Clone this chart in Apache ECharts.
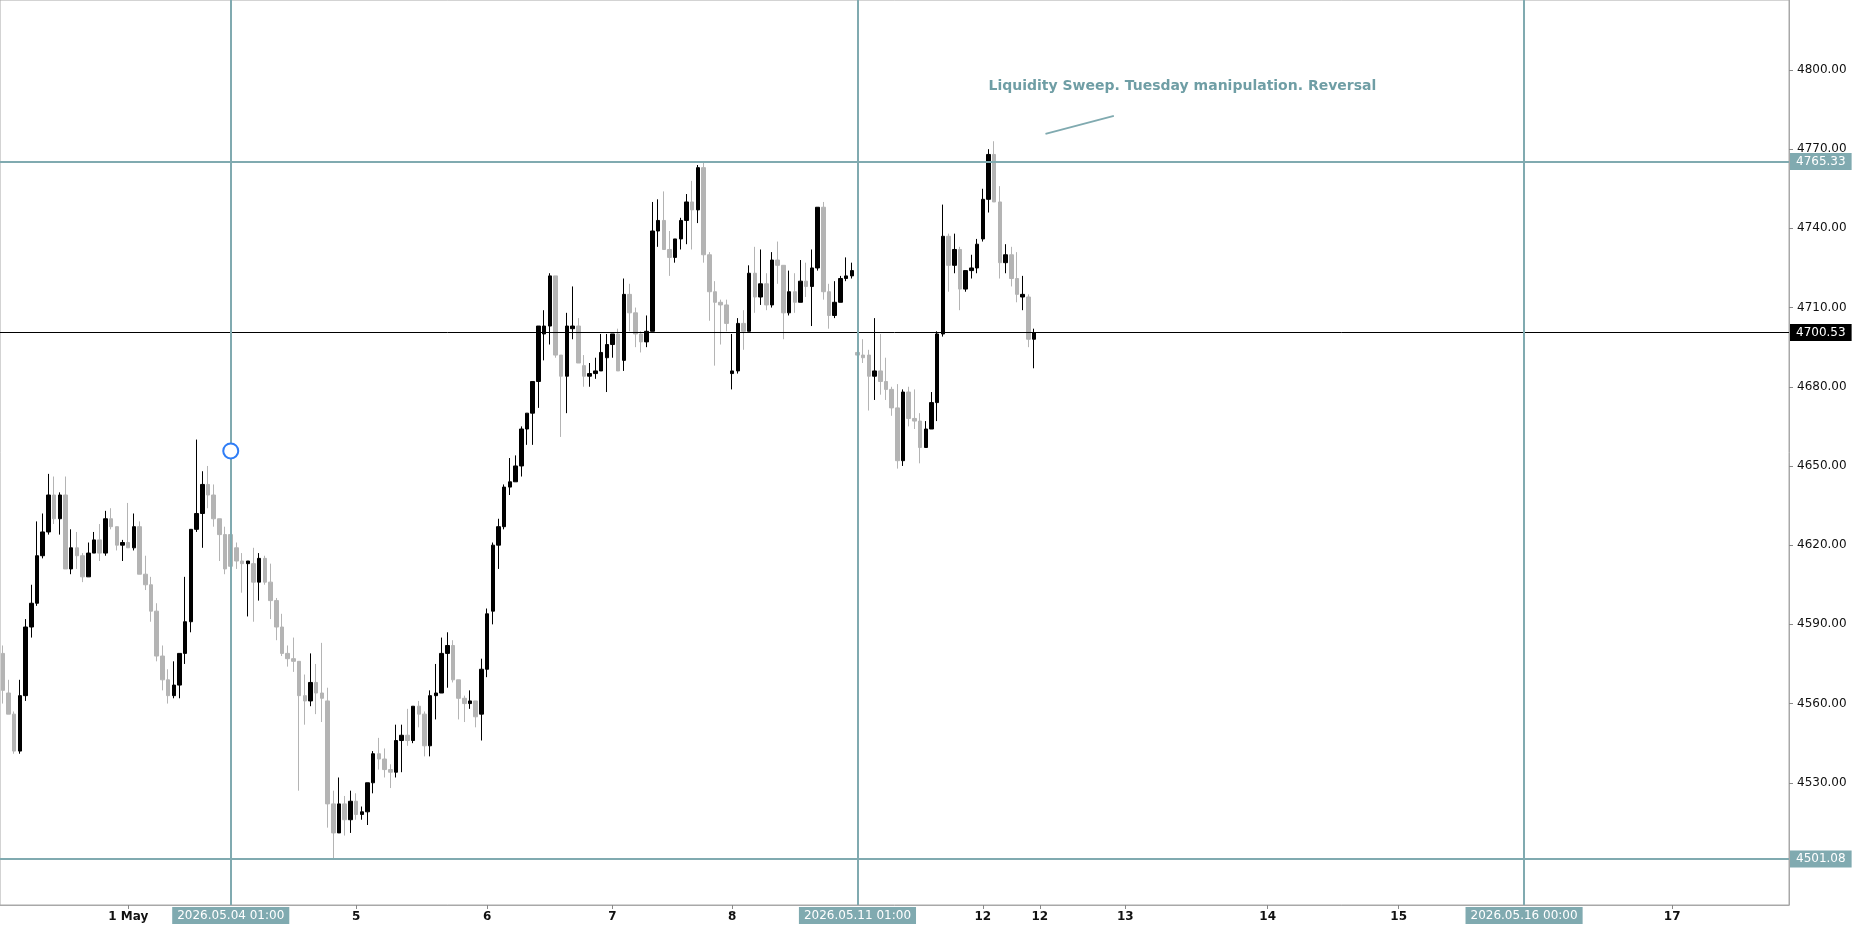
<!DOCTYPE html>
<html><head><meta charset="utf-8">
<script src="https://cdn.jsdelivr.net/npm/echarts@6/dist/echarts.min.js"></script>
<style>html,body{margin:0;padding:0;background:#fff}#c{width:1860px;height:930px}</style>
</head><body><div id="c"></div>
<script>
// Hourly candles: [open, close, low, high]
const candles = [
[4579,4565,4560,4582],[4564,4556,4556,4569],[4556,4542,4541,4557],[4542,4563,4541,4569],[4563,4589,4561,4592],
[4589,4598,4585,4605],[4598,4616,4597,4629],[4616,4625,4615,4632],[4625,4639,4624,4647],[4639,4630,4628,4646],
[4630,4639,4624,4640],[4639,4611,4611,4646],[4611,4619,4609,4626],[4619,4616,4611,4625],[4616,4608,4606,4617],
[4608,4617,4608,4621],[4617,4622,4617,4625],[4622,4617,4614,4628],[4617,4630,4616,4633],[4630,4627,4626,4634],
[4627,4620,4618,4627],[4620,4621,4614,4622],[4621,4619,4619,4636],[4619,4627,4618,4632],[4627,4609,4609,4629],
[4609,4605,4603,4616],[4605,4595,4591,4608],[4595,4578,4576,4598],[4578,4569,4565,4582],[4569,4563,4560,4573],
[4563,4567,4562,4576],[4567,4579,4562,4579],[4579,4591,4575,4608],[4591,4626,4587,4626],[4626,4632,4625,4660],
[4632,4643,4619,4648],[4643,4639,4634,4650],[4639,4630,4627,4643],[4630,4624,4614,4630],[4624,4611,4609,4627],
[4624,4612,4604,4628],[4619,4614,4611,4621],[4614,4613,4602,4617],[4613,4614,4593,4614],[4613,4606,4591,4619],
[4606,4615,4599,4617],[4615,4606,4605,4616],[4606,4599,4592,4613],[4599,4589,4584,4600],[4589,4579,4578,4594],
[4579,4577,4574,4582],[4577,4576,4572,4585],[4576,4563,4527,4576],[4563,4561,4552,4571],[4561,4568,4559,4579],
[4568,4564,4556,4575],[4564,4562,4553,4583],[4561,4522,4513,4566],[4522,4511,4501,4527],[4511,4522,4511,4532],
[4522,4516,4510,4525],[4516,4523,4511,4527],[4523,4518,4516,4526],[4518,4519,4516,4521],[4519,4530,4514,4530],
[4530,4541,4526,4542],[4541,4539,4535,4547],[4539,4535,4532,4543],[4535,4534,4528,4537],[4534,4546,4532,4552],
[4546,4548,4534,4552],[4548,4546,4544,4558],[4546,4559,4545,4559],[4559,4556,4551,4561],[4556,4544,4540,4557],
[4544,4563,4540,4565],[4563,4564,4554,4575],[4564,4579,4564,4585],[4579,4582,4566,4587],[4582,4569,4568,4584],
[4569,4562,4554,4569],[4562,4560,4553,4563],[4560,4561,4558,4565],[4561,4555,4551,4561],[4556,4573,4546,4577],
[4573,4594,4570,4596],[4595,4620,4590,4621],[4620,4627,4611,4630],[4627,4642,4626,4643],[4642,4644,4639,4653],
[4644,4650,4644,4654],[4650,4664,4646,4665],[4664,4670,4658,4670],[4670,4682,4658,4682],[4682,4703,4672,4703],
[4700,4703,4690,4709],[4703,4722,4696,4723],[4722,4692,4691,4722],[4692,4684,4661,4692],[4684,4703,4670,4708],
[4702,4703,4698,4718],[4703,4689,4689,4706],[4688,4684,4680,4692],[4684,4685,4680,4689],[4685,4686,4683,4691],
[4686,4693,4686,4700],[4691,4696,4678,4700],[4696,4700,4691,4700],[4700,4686,4686,4702],[4690,4715,4686,4721],
[4715,4708,4701,4719],[4708,4700,4695,4710],[4700,4697,4693,4701],[4697,4701,4695,4707],[4701,4739,4701,4750],
[4739,4743,4733,4751],[4743,4732,4732,4754],[4732,4729,4722,4739],[4729,4736,4727,4736],[4736,4743,4732,4744],
[4743,4750,4734,4753],[4750,4747,4732,4758],[4747,4763,4742,4764],[4763,4730,4727,4765],[4730,4716,4705,4731],
[4716,4712,4688,4720],[4712,4711,4696,4713],[4711,4704,4701,4713],[4685,4686,4679,4700],[4686,4704,4685,4706],
[4704,4701,4694,4709],[4701,4723,4701,4726],[4723,4714,4708,4733],[4714,4719,4711,4732],[4719,4711,4709,4723],
[4711,4728,4710,4731],[4728,4726,4719,4735],[4726,4708,4698,4726],[4708,4716,4707,4724],[4716,4712,4708,4723],
[4712,4720,4712,4728],[4720,4718,4714,4727],[4718,4725,4703,4732],[4725,4748,4724,4748],[4748,4716,4713,4750],
[4716,4707,4702,4719],[4707,4712,4706,4720],[4712,4721,4712,4722],[4721,4722,4720,4729],[4722,4724,4721,4727],
[4693,4692,4692,4694],[4692,4691,4689,4698],[4692,4684,4671,4694],[4684,4686,4675,4706],[4686,4682,4677,4700],
[4682,4679,4675,4691],[4679,4672,4669,4680],[4672,4652,4649,4681],[4652,4678,4650,4679],[4678,4668,4665,4680],
[4668,4667,4664,4679],[4667,4657,4651,4670],[4657,4664,4657,4667],[4664,4674,4664,4678],[4674,4700,4667,4701],
[4700,4737,4699,4749],[4737,4726,4716,4738],[4726,4732,4723,4738],[4732,4717,4709,4733],[4717,4724,4716,4724],
[4724,4725,4721,4730],[4725,4734,4723,4736],[4736,4751,4735,4755],[4751,4768,4746,4770],[4768,4750,4750,4773],
[4750,4727,4721,4756],[4727,4730,4723,4734],[4730,4721,4718,4733],[4721,4715,4712,4731],[4714,4715,4709,4722],
[4714,4698,4695,4715],[4698,4700.53,4687,4702]
];
const totalSlots = 314;
const xLabels = {22:'1 May',62:'5',85:'6',107:'7',128:'8',172:'12',182:'12',197:'13',222:'14',245:'15',293:'17'};
const yTicks = [4530,4560,4590,4620,4650,4680,4710,4740,4770,4800];
const hLevels = [{v:4765.33,c:'#80aab0'},{v:4501.08,c:'#80aab0'}];
const lastPrice = 4700.53;
const vLines = [{i:40,t:'2026.05.04 01:00'},{i:150,t:'2026.05.11 01:00'},{i:267,t:'2026.05.16 00:00'}];
const circlePt = [40,4655.7];
const noteText = 'Liquidity Sweep. Tuesday manipulation. Reversal';
const notePos = [173,4793.6];
const noteLine = [[183,4775.8],[195,4782.6]];

const teal = '#80aab0';
const cats = Array.from({length:totalSlots},(_,i)=>String(i));
const data = candles.map(c=>c);
const chart = echarts.init(document.getElementById('c'));
const font = 'DejaVu Sans';
chart.setOption({
  animation:false,
  grid:{left:0,right:71,top:0,bottom:25,show:true,borderColor:'#a8a8a8',borderWidth:1},
  xAxis:{type:'category',data:cats,boundaryGap:true,
    axisLine:{lineStyle:{color:'#a8a8a8'}},
    axisTick:{show:true,alignWithLabel:true,interval:(i)=>xLabels[i]!==undefined,lineStyle:{color:'#888'},length:4},
    axisLabel:{interval:(i)=>xLabels[i]!==undefined,formatter:(v,i)=>xLabels[i]||'',color:'#111',fontFamily:font,fontSize:12,margin:6,fontWeight:'bold'},
    splitLine:{show:false}},
  yAxis:{type:'value',position:'right',min:4483.7,max:4826.5,scale:true,
    axisLine:{show:true,lineStyle:{color:'#a8a8a8'}},
    axisTick:{show:true,customValues:yTicks,lineStyle:{color:'#888'},length:4},
    axisLabel:{customValues:yTicks,formatter:v=>v.toFixed(2),color:'#111',fontFamily:font,fontSize:12,margin:8},
    splitLine:{show:false}},
  series:[{
    type:'candlestick',data:data,barWidth:4,
    itemStyle:{color:'#000',color0:'#b4b4b4',borderColor:'#000',borderColor0:'#b4b4b4',borderWidth:1},
    markLine:{symbol:'none',silent:true,animation:false,
      data:[
        ...hLevels.map(h=>({yAxis:h.v,lineStyle:{color:h.c,width:2,type:'solid'},
          label:{show:true,position:'end',formatter:h.v.toFixed(2),color:'#fff',backgroundColor:h.c,padding:[3,6,2,6],fontFamily:font,fontSize:12,distance:1}})),
        {yAxis:lastPrice,lineStyle:{color:'#000',width:1,type:'solid'},
          label:{show:true,position:'end',formatter:lastPrice.toFixed(2),color:'#fff',backgroundColor:'#000',padding:[3,6,2,6],fontFamily:font,fontSize:12,distance:1}},
        ...vLines.map(v=>({xAxis:v.i,lineStyle:{color:teal,width:2,type:'solid'},
          label:{show:true,position:'start',formatter:v.t,color:'#fff',backgroundColor:teal,padding:[3,5,2,5],fontFamily:font,fontSize:12,distance:2}})),
        [{coord:noteLine[0],lineStyle:{color:teal,width:2,type:'solid'},label:{show:false}},{coord:noteLine[1]}]
      ]},
    markPoint:{silent:true,animation:false,data:[
      {coord:circlePt,symbol:'circle',symbolSize:15,itemStyle:{color:'#fff',borderColor:'#2f7df6',borderWidth:2},label:{show:false}},
      {coord:notePos,symbol:'circle',symbolSize:0,label:{show:true,position:'right',distance:0,formatter:noteText,color:'#6f9ea5',fontFamily:font,fontSize:14,fontWeight:'bold'}}
    ]}
  }]
});
</script></body></html>
